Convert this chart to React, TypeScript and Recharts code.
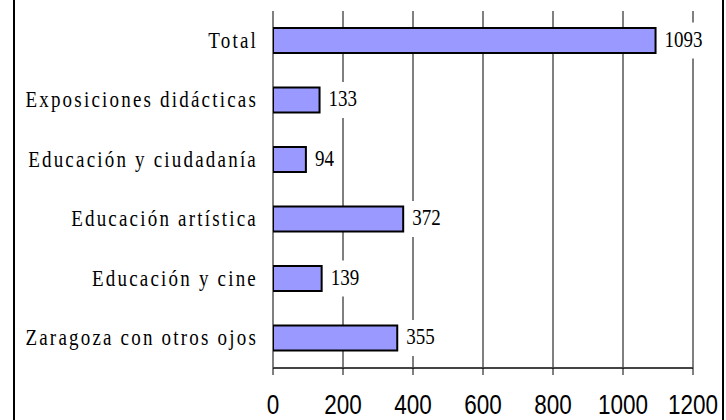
import React from "react";
import {
  BarChart,
  Bar,
  XAxis,
  YAxis,
  CartesianGrid,
  LabelList,
} from "recharts";

const categories = [
  "Total",
  "Exposiciones didácticas",
  "Educación y ciudadanía",
  "Educación artística",
  "Educación y cine",
  "Zaragoza con otros ojos",
];
const values = [1093, 133, 94, 372, 139, 355];
const xTicks = [0, 200, 400, 600, 800, 1000, 1200];
const sepTicks = [0, 1, 2, 3, 4, 5, 6];

const data = categories.map((name, i) => ({ name, value: values[i] }));

const SERIF = "'Liberation Serif', 'Times New Roman', serif";
const SANS = "'Liberation Sans', Arial, sans-serif";

const XTick = (props: any) => {
  const { x, payload } = props;
  return (
    <text
      transform={`translate(${x},414) scale(1,1.2)`}
      textAnchor="middle"
      fontFamily={SANS}
      fontSize={22.5}
      fill="#000"
    >
      {payload.value}
    </text>
  );
};

const YTick = (props: any) => {
  const { x, y, payload } = props;
  return (
    <text
      transform={`translate(${x + 2},${y + 7}) scale(1,1.25)`}
      textAnchor="end"
      fontFamily={SERIF}
      fontSize={19}
      letterSpacing={2.2}
      fill="#000"
    >
      {payload.value}
    </text>
  );
};

const ValueLabel = (props: any) => {
  const { x, y, width, height, value } = props;
  const s = String(value);
  const tw = s.length * 9.5;
  const cx = x + width;
  const cy = y + height / 2;
  return (
    <g>
      <rect x={cx + 4} y={cy - 18} width={tw + 10} height={36} fill="#fff" />
      <text
        transform={`translate(${cx + 9},${cy + 6}) scale(1,1.25)`}
        fontFamily={SERIF}
        fontSize={19}
        fill="#000"
      >
        {s}
      </text>
    </g>
  );
};

export default function App() {
  return (
    <div
      style={{
        position: "absolute",
        left: 0,
        top: 0,
        width: 726,
        height: 420,
        background: "#fff",
        overflow: "hidden",
      }}
    >
      <div
        style={{
          position: "absolute",
          left: 13,
          top: -5,
          width: 707,
          height: 430,
          borderLeft: "2px solid #000",
          borderRight: "2px solid #000",
        }}
      />
      <div style={{ position: "absolute", left: 0, top: 0 }}>
        <BarChart
          width={726}
          height={420}
          data={data}
          layout="vertical"
          margin={{ top: 11, right: 33, bottom: 0, left: 0 }}
        >
          <CartesianGrid
            horizontal={false}
            vertical={true}
            stroke="#000"
            strokeWidth={1}
            xAxisId={0}
            yAxisId="cat"
          />
          <XAxis
            xAxisId={0}
            type="number"
            domain={[0, 1200]}
            ticks={xTicks}
            allowDataOverflow
            height={52}
            tickSize={7}
            tickMargin={2}
            axisLine={{ stroke: "#444", strokeWidth: 2 }}
            tickLine={{ stroke: "#000", strokeWidth: 1 }}
            tick={<XTick />}
            interval={0}
          />
          <XAxis
            xAxisId="top"
            orientation="top"
            type="number"
            domain={[0, 1200]}
            allowDataOverflow
            height={0}
            tick={false}
            tickLine={false}
            axisLine={{ stroke: "#999", strokeWidth: 2 }}
          />
          <YAxis
            yAxisId="cat"
            type="category"
            dataKey="name"
            width={273}
            tickSize={0}
            tickMargin={17}
            axisLine={false}
            tickLine={false}
            tick={<YTick />}
            interval={0}
          />
          <YAxis
            yAxisId="sep"
            type="number"
            domain={[0, 6]}
            ticks={sepTicks}
            allowDataOverflow
            width={0}
            tickSize={8}
            tick={false}
            axisLine={{ stroke: "#000", strokeWidth: 2 }}
            tickLine={{ stroke: "#000", strokeWidth: 1 }}
            interval={0}
          />
          <YAxis
            yAxisId="r"
            orientation="right"
            type="number"
            domain={[0, 6]}
            allowDataOverflow
            width={0}
            tick={false}
            tickLine={false}
            axisLine={{ stroke: "#999", strokeWidth: 2 }}
          />
          <Bar
            dataKey="value"
            xAxisId={0}
            yAxisId="cat"
            fill="#9999FF"
            stroke="#000"
            strokeWidth={2}
            barSize={25}
            isAnimationActive={false}
          >
            <LabelList dataKey="value" content={<ValueLabel />} />
          </Bar>
        </BarChart>
      </div>
    </div>
  );
}
